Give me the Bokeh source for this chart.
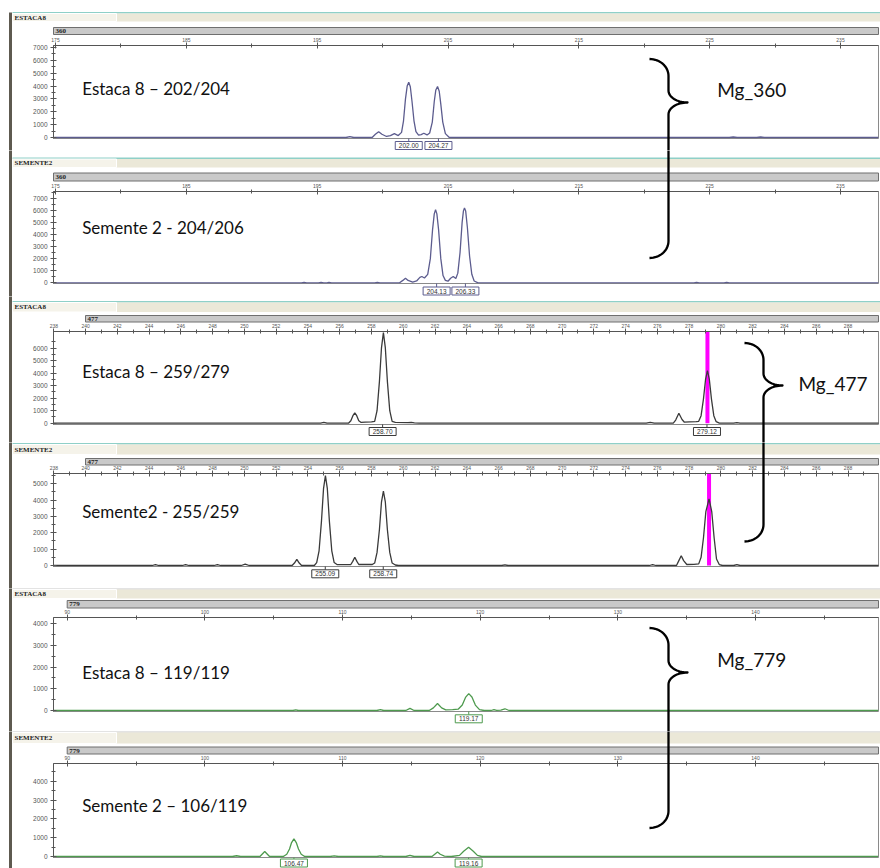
from bokeh.plotting import figure
from bokeh.models import Range1d, FixedTicker
from bokeh.core.properties import value
from bokeh.layouts import column
from bokeh.embed import file_html
from bokeh.resources import INLINE

# ---------------- data ----------------
sample_names = ["ESTACA8", "SEMENTE2", "ESTACA8", "SEMENTE2", "ESTACA8", "SEMENTE2"]
marker_ids = ["360", "360", "477", "477", "779", "779"]
genotype_texts = ["Estaca 8 \u2013 202/204", "Semente 2 - 204/206", "Estaca 8 \u2013 259/279",
                  "Semente2 - 255/259", "Estaca 8 \u2013 119/119", "Semente 2 \u2013 106/119"]
marker_labels = ["Mg_360", "Mg_477", "Mg_779"]

x_ticks_360 = [175, 185, 195, 205, 215, 225, 235]
x_minor_360 = [180, 190, 200, 210, 220, 230]
x_ticks_477 = [238, 240, 242, 244, 246, 248, 250, 252, 254, 256, 258, 260, 262, 264, 266,
               268, 270, 272, 274, 276, 278, 280, 282, 284, 286, 288]
x_minor_477 = [239, 241, 243, 245, 247, 249, 251, 253, 255, 257, 259, 261, 263, 265, 267,
               269, 271, 273, 275, 277, 279, 281, 283, 285, 287, 289]
x_ticks_779 = [90, 100, 110, 120, 130, 140]
x_minor_779 = [95, 105, 115, 125, 135, 145]

y_ticks_7000 = [0, 1000, 2000, 3000, 4000, 5000, 6000, 7000]
y_minor_all = [500, 1500, 2500, 3500, 4500, 5500, 6500, 7500]
y_ticks_6000 = [0, 1000, 2000, 3000, 4000, 5000, 6000]
y_ticks_5000 = [0, 1000, 2000, 3000, 4000, 5000]
y_ticks_4000 = [0, 1000, 2000, 3000, 4000]

# traces: (size in bp, RFU)
trace_e8_360 = [(174.9, 0), (197.2, 0), (197.5, 60), (197.8, 0), (199.2, 0), (199.45, 250), (199.7, 450),
                (199.95, 250), (200.3, 80), (200.6, 150), (200.9, 300), (201.2, 150), (201.45, 400),
                (201.6, 1300), (201.75, 3000), (201.88, 4000), (202.0, 4300), (202.12, 3950), (202.25, 2800),
                (202.4, 1300), (202.55, 450), (202.75, 180), (202.95, 230), (203.15, 330), (203.4, 200),
                (203.6, 350), (203.8, 1200), (203.95, 2800), (204.07, 3700), (204.2, 3970), (204.33, 3600),
                (204.45, 2600), (204.6, 1200), (204.8, 300), (205.1, 0), (226.5, 0), (226.8, 40), (227.1, 0),
                (228.6, 0), (228.9, 40), (229.2, 0), (237.9, 0)]
trace_s2_360 = [(174.9, 0), (193.8, 0), (194.0, 30), (194.2, 0), (195.1, 0), (195.3, 40), (195.5, 0),
                (195.75, 0), (195.9, 30), (196.1, 0), (199.4, 0), (199.6, 30), (199.8, 0), (201.3, 0),
                (201.55, 200), (201.75, 380), (201.95, 200), (202.3, 60), (202.6, 150), (202.85, 450),
                (203.0, 520), (203.2, 400), (203.45, 700), (203.65, 2000), (203.82, 4400), (203.95, 5700),
                (204.05, 6040), (204.15, 5700), (204.28, 4400), (204.45, 2000), (204.62, 600), (204.8, 200),
                (205.0, 130), (205.2, 380), (205.4, 520), (205.6, 350), (205.75, 800), (205.92, 2500),
                (206.08, 5000), (206.18, 5950), (206.26, 6200), (206.35, 5950), (206.48, 4600), (206.65, 2200),
                (206.82, 700), (207.0, 150), (207.3, 0), (223.8, 0), (224.0, 40), (224.2, 0), (226.1, 0),
                (226.3, 40), (226.5, 0), (237.9, 0)]
trace_e8_477 = [(238.0, 0), (254.8, 0), (255.0, 60), (255.2, 0), (256.55, 0), (256.7, 200), (256.83, 600),
                (256.95, 830), (257.07, 600), (257.2, 200), (257.35, 60), (257.6, 90), (258.0, 110),
                (258.2, 150), (258.35, 1000), (258.5, 3350), (258.63, 6050), (258.75, 7250), (258.87, 6050),
                (259.0, 3350), (259.15, 1000), (259.3, 150), (259.5, 60), (260.3, 50), (260.5, 70),
                (260.7, 20), (261.0, 0), (275.3, 0), (275.55, 60), (275.8, 0), (277.0, 0), (277.15, 250),
                (277.35, 800), (277.55, 300), (277.7, 80), (278.0, 100), (278.45, 120), (278.6, 150),
                (278.75, 600), (278.9, 1950), (279.03, 3500), (279.15, 4200), (279.27, 3500), (279.4, 1950),
                (279.55, 600), (279.7, 120), (279.9, 0), (280.8, 0), (281.0, 50), (281.2, 0), (290.0, 0)]
trace_s2_477 = [(238.0, 0), (244.2, 0), (244.4, 60), (244.6, 0), (246.1, 0), (246.3, 60), (246.5, 0),
                (248.1, 0), (248.3, 60), (248.5, 0), (249.8, 0), (250.05, 80), (250.3, 0), (253.0, 0),
                (253.15, 150), (253.3, 370), (253.45, 150), (253.6, 0), (254.4, 0), (254.55, 180),
                (254.7, 900), (254.85, 2700), (254.98, 4700), (255.1, 5500), (255.22, 4700), (255.35, 2700),
                (255.5, 900), (255.65, 180), (255.85, 50), (256.7, 60), (256.82, 250), (256.95, 500),
                (257.08, 250), (257.2, 60), (258.05, 60), (258.2, 150), (258.35, 800), (258.5, 2200),
                (258.63, 3900), (258.75, 4550), (258.87, 3900), (259.0, 2200), (259.15, 800), (259.3, 150),
                (259.5, 30), (259.7, 0), (266.2, 0), (266.4, 40), (266.6, 0), (275.5, 0), (275.7, 60),
                (275.9, 0), (277.2, 0), (277.35, 300), (277.5, 600), (277.65, 300), (277.85, 60), (278.3, 70),
                (278.6, 100), (278.75, 500), (278.9, 1700), (279.05, 3300), (279.25, 4080), (279.42, 3300),
                (279.57, 1700), (279.72, 400), (279.9, 50), (280.1, 0), (280.8, 0), (281.0, 50), (281.2, 0),
                (290.0, 0)]
trace_e8_779 = [(89.0, 0), (106.4, 0), (106.6, 30), (106.8, 0), (112.5, 0), (112.75, 40), (113.0, 0),
                (114.6, 0), (114.9, 100), (115.2, 0), (116.3, 0), (116.6, 120), (116.9, 320), (117.2, 120),
                (117.5, 30), (118.0, 40), (118.4, 60), (118.7, 250), (118.95, 620), (119.17, 780),
                (119.4, 620), (119.65, 250), (119.95, 40), (120.3, 0), (120.8, 0), (121.0, 40), (121.2, 10),
                (121.5, 20), (121.8, 80), (122.1, 0), (148.9, 0)]
trace_s2_779 = [(89.0, 0), (102.0, 0), (102.3, 40), (102.6, 0), (104.0, 0), (104.35, 265), (104.7, 0),
                (105.7, 0), (105.95, 120), (106.15, 400), (106.3, 740), (106.47, 940), (106.64, 740),
                (106.8, 400), (107.0, 120), (107.25, 0), (109.1, 0), (109.4, 30), (109.7, 0), (112.5, 0),
                (112.75, 30), (113.0, 0), (114.6, 0), (114.9, 60), (115.2, 0), (116.5, 0), (116.7, 120),
                (116.9, 240), (117.1, 120), (117.4, 20), (117.9, 0), (118.5, 60), (118.8, 280), (119.16, 490),
                (119.5, 280), (119.8, 60), (120.1, 0), (148.9, 0)]

peak_calls = [[202.00, 204.27], [204.13, 206.33], [258.70, 279.12], [255.09, 258.74], [119.17], [106.47, 119.16]]
bin_477 = [279.15, 279.25]

# ---------------- layout / styling ----------------
def lin(v0, p0, v1, p1):
    k = (v1 - v0) / (p1 - p0)
    return lambda px: v0 + (px - p0) * k

BLUE, BLACK, GREEN = "#5c5c8e", "#3a3a3a", "#4e9a4e"
panels = [
    dict(top=0, bot=150, ftop=45, fbot=138, X=lin(175, 55, 235, 840), Y=lin(0, 137, 7000, 47),
         trace=trace_e8_360, color=BLUE, xt=x_ticks_360, xm=x_minor_360, yt=y_ticks_7000,
         line=(11.5, 13, "#8fd0c8"), strip=(13, 21), bar=(27, 34, 53), txt_y=88.3, box_y=145, pin=None),
    dict(top=150, bot=296, ftop=191, fbot=283, X=lin(175, 55, 235, 840), Y=lin(0, 282.3, 7000, 197.7),
         trace=trace_s2_360, color=BLUE, xt=x_ticks_360, xm=x_minor_360, yt=y_ticks_7000,
         line=(157, 158.5, "#8fd0c8"), strip=(158.5, 167), bar=(172.5, 180.5, 53), txt_y=226.7, box_y=290.5, pin=None),
    dict(top=296, bot=442, ftop=331, fbot=424, X=lin(238, 53.3, 290, 879.3), Y=lin(0, 422.7, 6000, 347.7),
         trace=trace_e8_477, color=BLACK, xt=x_ticks_477, xm=x_minor_477, yt=y_ticks_6000,
         line=(300.5, 302, "#8fd0c8"), strip=(302, 311.5), bar=(315, 321.5, 85), txt_y=371, box_y=431, pin=0),
    dict(top=442, bot=588, ftop=473, fbot=566, X=lin(238, 53.3, 290, 879.3), Y=lin(0, 565, 5000, 483.3),
         trace=trace_s2_477, color=BLACK, xt=x_ticks_477, xm=x_minor_477, yt=y_ticks_5000,
         line=(442.5, 444, "#8fd0c8"), strip=(444, 454), bar=(458, 464.5, 85), txt_y=510.7, box_y=573.3, pin=1),
    dict(top=588, bot=731, ftop=617, fbot=711, X=lin(90, 66.7, 140, 755), Y=lin(0, 710, 4000, 623.3),
         trace=trace_e8_779, color=GREEN, xt=x_ticks_779, xm=x_minor_779, yt=y_ticks_4000,
         line=(588, 589, "#c8c8c8"), strip=(589, 598), bar=(600, 607.5, 66.7), txt_y=672.3, box_y=718.3, pin=None),
    dict(top=731, bot=868, ftop=763, fbot=857, X=lin(90, 66.7, 140, 755), Y=lin(0, 856, 4000, 780.7),
         trace=trace_s2_779, color=GREEN, xt=x_ticks_779, xm=x_minor_779, yt=y_ticks_4000,
         line=(731, 732, "#c8c8c8"), strip=(732, 743), bar=(746.5, 753.5, 66.7), txt_y=805, box_y=862.5, pin=None),
]

braces = [  # x_tip, x_vertical, x_point, y_top, y_mid, y_bottom, label x, label baseline y
    (649, 668, 687, 58.5, 102, 257.5, 716.7, 89.3),
    (744, 763, 782, 342.5, 385, 541, 798, 383.3),
    (649, 668, 687, 627.5, 672, 827.5, 716.7, 659),
]

def cubic(p0, p1, p2, p3, n=16):
    out = []
    for i in range(n + 1):
        t = i / n
        a, b, c, d = (1 - t) ** 3, 3 * (1 - t) ** 2 * t, 3 * (1 - t) * t * t, t ** 3
        out.append((a * p0[0] + b * p1[0] + c * p2[0] + d * p3[0], a * p0[1] + b * p1[1] + c * p2[1] + d * p3[1]))
    return out

def brace_path(xt, xv, xp, yt, ym, yb, r1=17, r2=12):
    k = 0.552
    dx, dp = xv - xt, xp - xv
    pts = cubic((xt, yt), (xt + k * dx, yt), (xv, yt + r1 - k * r1), (xv, yt + r1))
    pts += cubic((xv, ym - r2), (xv, ym - r2 + k * r2), (xp - k * dp, ym), (xp, ym))
    pts += cubic((xp, ym), (xp - k * dp, ym), (xv, ym + r2 - k * r2), (xv, ym + r2))
    pts += cubic((xv, yb - r1), (xv, yb - r1 + k * r1), (xt + k * dx, yb), (xt, yb))
    return pts

def clip_band(pts, top, bot):
    out = []
    for (x0, y0), (x1, y1) in zip(pts[:-1], pts[1:]):
        if y1 == y0:
            if top <= y0 <= bot:
                out += [(x0, y0), (x1, y1)]
            continue
        t0, t1 = (top - y0) / (y1 - y0), (bot - y0) / (y1 - y0)
        lo, hi = max(0.0, min(t0, t1)), min(1.0, max(t0, t1))
        if lo <= hi:
            out.append((x0 + (x1 - x0) * lo, y0 + (y1 - y0) * lo))
            out.append((x0 + (x1 - x0) * hi, y0 + (y1 - y0) * hi))
    return out

brace_paths = [brace_path(*b[:6]) for b in braces]

def rect_px(p, X, Y, x0, x1, y0, y1, fill, line=None):
    p.quad(left=[X(x0)], right=[X(x1)], top=[Y(y0)], bottom=[Y(y1)], fill_color=fill,
           line_color=line, line_width=1, level="overlay")

def text_px(p, X, Y, x, y, txt, font, size, color, style="normal", align="left", baseline="middle"):
    p.text(x=[X(x)], y=[Y(y)], text=[txt], text_font=value(font), text_font_size=value(size),
           text_font_style=value(style), text_color=color, text_align=align, text_baseline=baseline,
           level="overlay")

figs = []
for i, g in enumerate(panels):
    X, Y = g["X"], g["Y"]
    p = figure(width=880, height=g["bot"] - g["top"], x_range=Range1d(X(53), X(878)),
               y_range=Range1d(Y(g["fbot"]), Y(g["ftop"])), x_axis_location="above",
               toolbar_location=None, output_backend="svg", title=None,
               min_border_left=53, min_border_right=2, min_border_top=g["ftop"] - g["top"],
               min_border_bottom=g["bot"] - g["fbot"])
    p.xgrid.visible = False
    p.ygrid.visible = False
    p.outline_line_color = "#8a8a8a"
    p.background_fill_color = "white"
    p.border_fill_color = "white"

    xa = p.xaxis[0]
    xa.ticker = FixedTicker(ticks=g["xt"], minor_ticks=g["xm"])
    ya = p.yaxis[0]
    ya.ticker = FixedTicker(ticks=g["yt"], minor_ticks=y_minor_all)
    for ax, fs, so in ((xa, "5px", 1), (ya, "6.5px", 3)):
        ax.axis_line_color = "#555555"
        ax.major_tick_line_color = "#555555"
        ax.minor_tick_line_color = "#555555"
        ax.major_tick_in, ax.major_tick_out = 3, 3
        ax.minor_tick_in, ax.minor_tick_out = 2, 2
        ax.major_label_text_font = "Liberation Sans"
        ax.major_label_text_font_size = fs
        ax.major_label_text_color = "#555555"
        ax.major_label_standoff = so

    # window decorations
    rect_px(p, X, Y, 8.5, 11.5, max(g["top"], 12), g["bot"], "#5e5a50")
    rect_px(p, X, Y, 12, 880, g["line"][0], g["line"][1], g["line"][2])
    rect_px(p, X, Y, 12, 880, g["strip"][0], g["strip"][1], "#ebe8d8")
    rect_px(p, X, Y, 12, 116, g["strip"][0], g["strip"][1], "#f5f3ea", "#ffffff")
    text_px(p, X, Y, 14, (g["strip"][0] + g["strip"][1]) / 2, sample_names[i], "Liberation Serif",
            "7px", "#1e1e1e", style="bold")
    rect_px(p, X, Y, g["bar"][2], 878, g["bar"][0], g["bar"][1], "#c9c9c9", "#6f6f6f")
    text_px(p, X, Y, g["bar"][2] + 2, (g["bar"][0] + g["bar"][1]) / 2, marker_ids[i], "Liberation Serif",
            "7px", "#1e1e1e", style="bold")

    # bin marker
    if g["pin"] is not None:
        b = bin_477[g["pin"]]
        p.segment(x0=[b], y0=[0], x1=[b], y1=[Y(g["ftop"])], line_color="#ff00ff", line_width=4)

    # trace
    xs = [s for s, _ in g["trace"]]
    ys = [v for _, v in g["trace"]]
    p.line(xs, ys, line_color=g["color"], line_width=1.3)

    # peak call boxes with their small connector ticks
    pcs = peak_calls[i]
    n = len(pcs)
    p.segment(x0=pcs, y0=[Y(g["fbot"])] * n, x1=pcs, y1=[Y(g["box_y"] - 4)] * n,
              line_color=g["color"], line_width=1, level="overlay")
    p.rect(x=pcs, y=[Y(g["box_y"])] * n, width=27, height=8, width_units="screen",
           height_units="screen", fill_color="white", line_color=g["color"], line_width=1, level="overlay")
    p.text(x=pcs, y=[Y(g["box_y"])] * n, text=["%.2f" % v for v in pcs],
           text_font=value("Liberation Sans"), text_font_size=value("6.5px"), text_color="#333333",
           text_align="center", text_baseline="middle", level="overlay")

    # genotype text
    text_px(p, X, Y, 81.7, g["txt_y"], genotype_texts[i], "Lato", "17px", "#111111", baseline="alphabetic")

    # braces (parts that fall into this panel)
    for bi, path in enumerate(brace_paths):
        seg = clip_band(path, g["top"], g["bot"])
        if len(seg) >= 2:
            p.line([X(px) for px, _ in seg], [Y(py) for _, py in seg], line_color="black",
                   line_width=2.3, line_join="round", level="overlay")
        lx, ly = braces[bi][6], braces[bi][7]
        if g["top"] <= ly < g["bot"]:
            text_px(p, X, Y, lx, ly, marker_labels[bi], "Lato", "19px", "#111111", baseline="alphabetic")
    figs.append(p)

layout = column(*figs, spacing=0)
open("out.html", "w").write(file_html(layout, INLINE))
